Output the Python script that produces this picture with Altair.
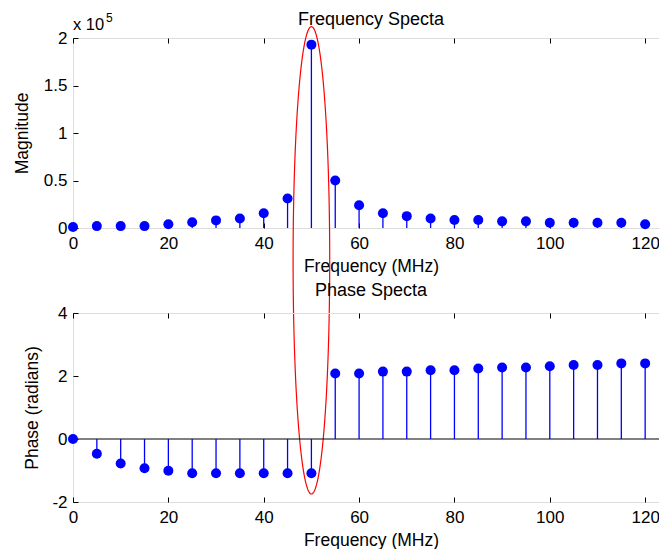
import altair as alt
import numpy as np
import pandas as pd

# ---------------- data ----------------
freq_mhz = [0, 5, 10, 15, 20, 25, 30, 35, 40, 45, 50, 55, 60,
            65, 70, 75, 80, 85, 90, 95, 100, 105, 110, 115, 120, 125]
magnitude_e5 = [0.01, 0.02, 0.02, 0.02, 0.04, 0.06, 0.08, 0.10, 0.155, 0.31,
                1.93, 0.50, 0.24, 0.155, 0.125, 0.10, 0.085, 0.085, 0.07, 0.07,
                0.055, 0.055, 0.055, 0.055, 0.04, 0.04]
phase_rad = [0.0, -0.47, -0.78, -0.93, -1.01, -1.09, -1.09, -1.09, -1.09, -1.09,
             -1.09, 2.08, 2.08, 2.14, 2.14, 2.18, 2.18, 2.24, 2.27, 2.27,
             2.31, 2.35, 2.35, 2.40, 2.40, 2.44]
x_ticks = [0, 20, 40, 60, 80, 100, 120]
mag_ticks = [0, 0.5, 1, 1.5, 2]
phase_ticks = [-2, 0, 2, 4]
titles = ["Frequency Specta", "Phase Specta"]
exponent = ["x 10", "5"]

# highlight ellipse around 50 MHz (expressed in the magnitude panel's units)
ell_cx, ell_cy, ell_rx, ell_ry = 50, -0.34, 3.84, 2.46

df = pd.DataFrame({"freq": freq_mhz, "mag": magnitude_e5, "phase": phase_rad})
t = np.linspace(0, 2 * np.pi, 181)
ell_df = pd.DataFrame({"i": np.arange(len(t)),
                       "ex": ell_cx + ell_rx * np.cos(t),
                       "ey": ell_cy + ell_ry * np.sin(t)})

# ---------------- style ----------------
FONT = "Liberation Sans"
LABEL_FS = 17
TITLE_FS = 17.5
HEAD_FS = 18
BLUE = "#0000ff"
W = 596
H_TOP = 190
H_BOT = 189
TICK = 5

x_scale = alt.Scale(domain=[0, 125], nice=False, zero=False)
y_top = alt.Scale(domain=[0, 2], nice=False, zero=False)
y_bot = alt.Scale(domain=[-2, 4], nice=False, zero=False)


def axis_main_x(title):
    return alt.Axis(orient="bottom", values=x_ticks, offset=-TICK, tickSize=TICK,
                    tickColor="black", domain=False, grid=False, labelPadding=7,
                    labelFont=FONT, labelFontSize=LABEL_FS, labelColor="black",
                    labelFlush=False, labelOverlap=False, labelExpr="'' + datum.value",
                    title=title, titleFont=FONT, titleFontSize=TITLE_FS,
                    titleFontWeight="normal", titleColor="black",
                    titleBaseline="alphabetic", titleY=48, minExtent=0)


def axis_main_y(title, values, title_x):
    return alt.Axis(orient="left", values=values, offset=-TICK, tickSize=TICK,
                    tickColor="black", domain=False, grid=False, labelPadding=6,
                    labelFont=FONT, labelFontSize=LABEL_FS, labelColor="black",
                    labelFlush=False, labelOverlap=False, labelExpr="'' + datum.value",
                    title=title, titleFont=FONT, titleFontSize=TITLE_FS,
                    titleFontWeight="normal", titleColor="black",
                    titleBaseline="alphabetic", titleX=title_x, minExtent=0)


def axis_inner(orient, values):
    return alt.Axis(orient=orient, values=values, offset=-TICK, tickSize=TICK,
                    tickColor="black", labels=False, domain=False, grid=False,
                    title=None, minExtent=0, maxExtent=0)


def head(text, y):
    return alt.Chart(pd.DataFrame({"t": [text]})).mark_text(
        font=FONT, fontSize=HEAD_FS, align="center", baseline="alphabetic",
        color="black").encode(x=alt.value(W / 2), y=alt.value(y), text="t:N")


# ---------------- magnitude panel ----------------
base = alt.Chart(df)
stems_top = base.mark_rule(color=BLUE, strokeWidth=1.3).encode(
    x=alt.X("freq:Q", scale=x_scale, axis=axis_main_x("Frequency (MHz)")),
    y=alt.Y("mag:Q", scale=y_top, axis=axis_main_y("Magnitude", mag_ticks, -51)),
    y2=alt.datum(0),
)
dots_top = base.mark_circle(size=100, color=BLUE, opacity=1).encode(
    x=alt.X("freq:Q", scale=x_scale, axis=axis_inner("top", x_ticks)),
    y=alt.Y("mag:Q", scale=y_top, axis=axis_inner("right", mag_ticks)),
)
ellipse = alt.Chart(ell_df).mark_line(color="#ff0000", strokeWidth=1.2, clip=False).encode(
    x=alt.X("ex:Q", scale=x_scale, axis=None),
    y=alt.Y("ey:Q", scale=y_top, axis=None),
    order="i:Q",
)
exp_df = pd.DataFrame({"base": [exponent[0]], "sup": [exponent[1]]})
exp_base = alt.Chart(exp_df).mark_text(font=FONT, fontSize=16.5, align="left",
                                       baseline="alphabetic", color="black").encode(
    x=alt.value(0), y=alt.value(-8), text="base:N")
exp_sup = alt.Chart(exp_df).mark_text(font=FONT, fontSize=12, align="left",
                                      baseline="alphabetic", color="black").encode(
    x=alt.value(33), y=alt.value(-16), text="sup:N")

top = alt.layer(stems_top, dots_top, ellipse, exp_base, exp_sup,
                head(titles[0], -13.5)).resolve_axis(
    x="independent", y="independent"
).properties(width=W, height=H_TOP)

# ---------------- phase panel ----------------
zero_line = alt.Chart(pd.DataFrame({"z": [0]})).mark_rule(color="black", strokeWidth=1).encode(
    y=alt.Y("z:Q", scale=y_bot, axis=None))
stems_bot = base.mark_rule(color=BLUE, strokeWidth=1.3).encode(
    x=alt.X("freq:Q", scale=x_scale, axis=axis_main_x("Frequency (MHz)")),
    y=alt.Y("phase:Q", scale=y_bot,
            axis=axis_main_y("Phase (radians)", phase_ticks, -41)),
    y2=alt.datum(0),
)
dots_bot = base.mark_circle(size=100, color=BLUE, opacity=1).encode(
    x=alt.X("freq:Q", scale=x_scale, axis=axis_inner("top", x_ticks)),
    y=alt.Y("phase:Q", scale=y_bot, axis=axis_inner("right", phase_ticks)),
)
bottom = alt.layer(zero_line, stems_bot, dots_bot,
                   head(titles[1], -17)).resolve_axis(
    x="independent", y="independent"
).properties(width=W, height=H_BOT)

chart = alt.vconcat(top, bottom, spacing=85, bounds="flush").properties(
    padding={"left": 4, "top": 2, "right": -16, "bottom": 0}
).configure_view(stroke="black", strokeWidth=1).configure(font=FONT)

chart.save("out.html", embed_options={"renderer": "svg", "actions": False})
